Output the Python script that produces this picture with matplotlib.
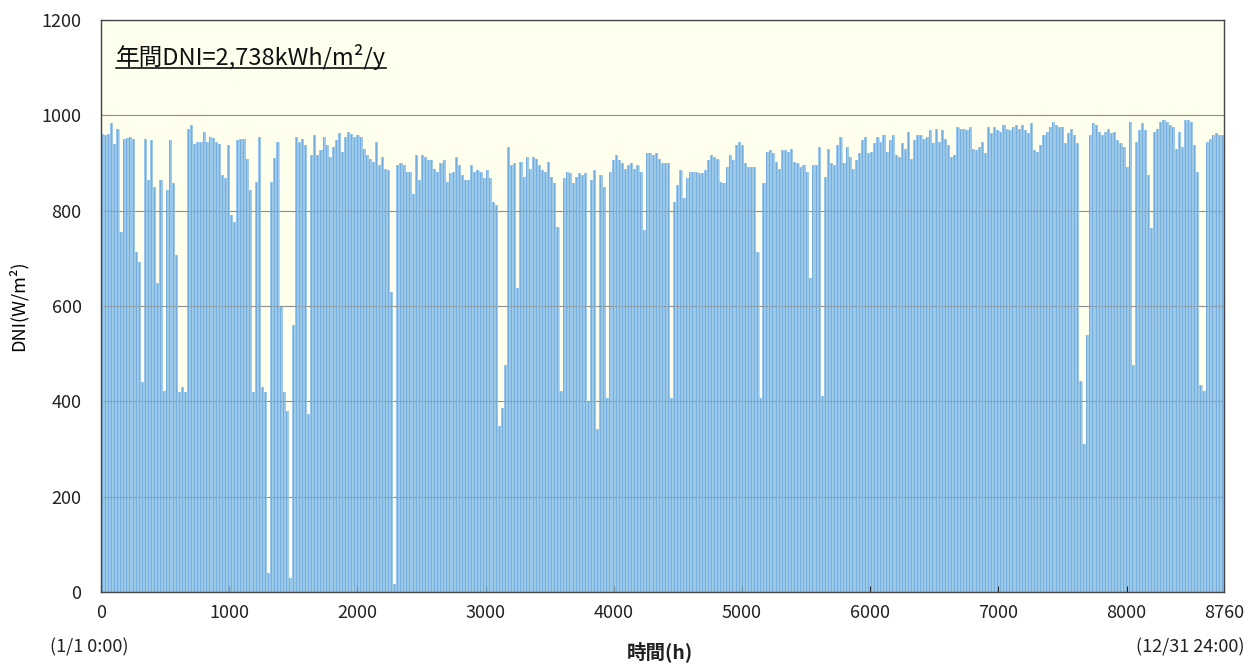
import numpy as np
import matplotlib
matplotlib.use("Agg")
import matplotlib.pyplot as plt

plt.rcParams['font.family'] = ['Noto Sans CJK JP', 'DejaVu Sans']

# Daily peak DNI (W/m2), one value per day of the year
peak_jan_feb = [960, 958, 960, 983, 940, 972, 755, 950, 952, 955, 950, 714, 693, 440, 950, 864,
                948, 850, 648, 864, 421, 843, 948, 857, 707, 420, 430, 420, 972, 979, 940, 945,
                945, 965, 945, 955, 952, 945, 940, 875, 868, 937, 791, 777, 948, 950, 950, 909,
                843, 420, 860, 955, 430, 420, 40, 860, 910, 945, 600, 420, 380, 30, 560]
peak_mar_may = [955, 944, 950, 937, 373, 916, 958, 916, 927, 955, 937, 913, 934, 948, 962, 923,
                955, 965, 960, 955, 958, 955, 930, 916, 909, 902, 944, 895, 913, 888, 885, 630,
                17, 895, 899, 895, 881, 881, 836, 916, 864, 916, 913, 906, 906, 888, 881, 899,
                906, 860, 878, 881, 913, 895, 874, 864, 864, 895, 881]
peak_may_jul = [885, 881, 868, 885, 868, 819, 812, 348, 387, 477, 934, 895, 899, 638, 902, 871,
                913, 888, 913, 909, 895, 885, 881, 902, 871, 857, 766, 421, 868, 881, 878, 857,
                871, 878, 874, 878, 400, 864, 885, 341, 874, 850, 408, 881, 906, 916, 906, 899,
                888, 895, 899, 888, 895, 881, 760, 920, 920, 916, 920, 909, 899, 899, 899]
peak_jul_sep = [408, 819, 854, 885, 826, 868, 881, 881, 881, 878, 878, 885, 906, 916, 913, 909,
                860, 857, 892, 916, 906, 937, 944, 937, 899, 892, 892, 892, 714, 408, 857, 923,
                927, 920, 902, 888, 927, 927, 923, 930, 902, 899, 892, 895, 881, 659, 895, 895,
                934, 411, 871, 930, 899, 895, 937, 955, 899, 934, 913, 888, 906, 920, 948]
peak_sep_nov = [955, 920, 923, 941, 955, 944, 958, 923, 948, 958, 916, 913, 941, 930, 965, 909,
                948, 958, 958, 951, 955, 969, 941, 972, 944, 969, 951, 937, 913, 916, 976, 972,
                972, 969, 976, 930, 927, 934, 944, 920, 976, 962, 976, 969, 965, 979, 972, 969,
                976, 979, 972, 979, 969, 962, 983, 927, 923, 937, 958, 965, 976]
peak_nov_dec = [986, 979, 976, 976, 941, 962, 972, 958, 941, 442, 310, 540, 958, 983, 979, 965,
                958, 965, 972, 962, 965, 948, 941, 934, 892, 986, 477, 944, 969, 983, 969, 874,
                763, 965, 972, 986, 990, 986, 979, 976, 930, 965, 934, 990, 990, 986, 937, 881,
                435, 421, 944, 951, 958, 962, 958, 958]

daily_peak = np.array(peak_jan_feb + peak_mar_may + peak_may_jul + peak_jul_sep
                      + peak_sep_nov + peak_nov_dec, dtype=float)
n_days = len(daily_peak)
day_hours = np.arange(n_days) * 24 + 12

y_ticks = [0, 200, 400, 600, 800, 1000, 1200]
x_ticks = [0, 1000, 2000, 3000, 4000, 5000, 6000, 7000, 8000, 8760]
x_ticklabels = ['0', '1000', '2000', '3000', '4000', '5000', '6000', '7000', '8000', '8760']
annot_text = '年間DNI=2,738kWh/m²/y'

fig = plt.figure(figsize=(12.54, 6.64), dpi=100)
ax = fig.add_axes([101/1254, 1 - 592/664, (1224-101)/1254, (592-20)/664])
ax.set_facecolor('#FFFFEE')

ax.bar(day_hours, daily_peak, width=24, color='#98C8F0', edgecolor='none', linewidth=0, zorder=2)
ax.vlines(day_hours - 6, 0, daily_peak, color='#6FAADB', linewidth=0.6, zorder=3)
ax.vlines(day_hours + 5, 0, daily_peak, color='#A3CCD8', linewidth=0.5, zorder=3)

ax.set_xlim(0, 8760)
ax.set_ylim(0, 1200)
ax.set_yticks(y_ticks)
ax.set_xticks(x_ticks)
ax.set_xticklabels(x_ticklabels)
ax.grid(axis='y', color='#8C8C8C', linewidth=0.8, zorder=4)
ax.set_axisbelow(False)
ax.tick_params(axis='both', labelsize=13, colors='#222222', length=4, direction='in', width=0.8)
ax.tick_params(axis='y', length=0, pad=14)
ax.tick_params(axis='x', pad=9)
for s in ax.spines.values():
    s.set_color('#444444')
    s.set_linewidth(1.0)
    s.set_zorder(6)

ax.set_ylabel('DNI(W/m²)', fontsize=13, labelpad=10)

t = ax.text(0.013, 0.935, annot_text, transform=ax.transAxes, fontsize=17, color='#111111',
            va='center', ha='left', zorder=7)
fig.canvas.draw()
bb = t.get_window_extent(renderer=fig.canvas.get_renderer())
inv = ax.transAxes.inverted()
(x0, y0), (x1, y1) = inv.transform([[bb.x0, bb.y0], [bb.x1, bb.y0]])
ax.plot([x0, x1], [y0 + 0.004, y1 + 0.004], transform=ax.transAxes, color='#111111',
        linewidth=1.2, zorder=7, clip_on=False)

fig.text(50/1254, 1 - 647/664, '(1/1 0:00)', fontsize=13, ha='left', va='center', color='#222222')
fig.text(1245/1254, 1 - 647/664, '(12/31 24:00)', fontsize=13, ha='right', va='center', color='#222222')
fig.text(660/1254, 1 - 652/664, '時間(h)', fontsize=14, ha='center', va='center', color='#222222',
         fontweight='bold')

fig.savefig('out.png', dpi=100)
